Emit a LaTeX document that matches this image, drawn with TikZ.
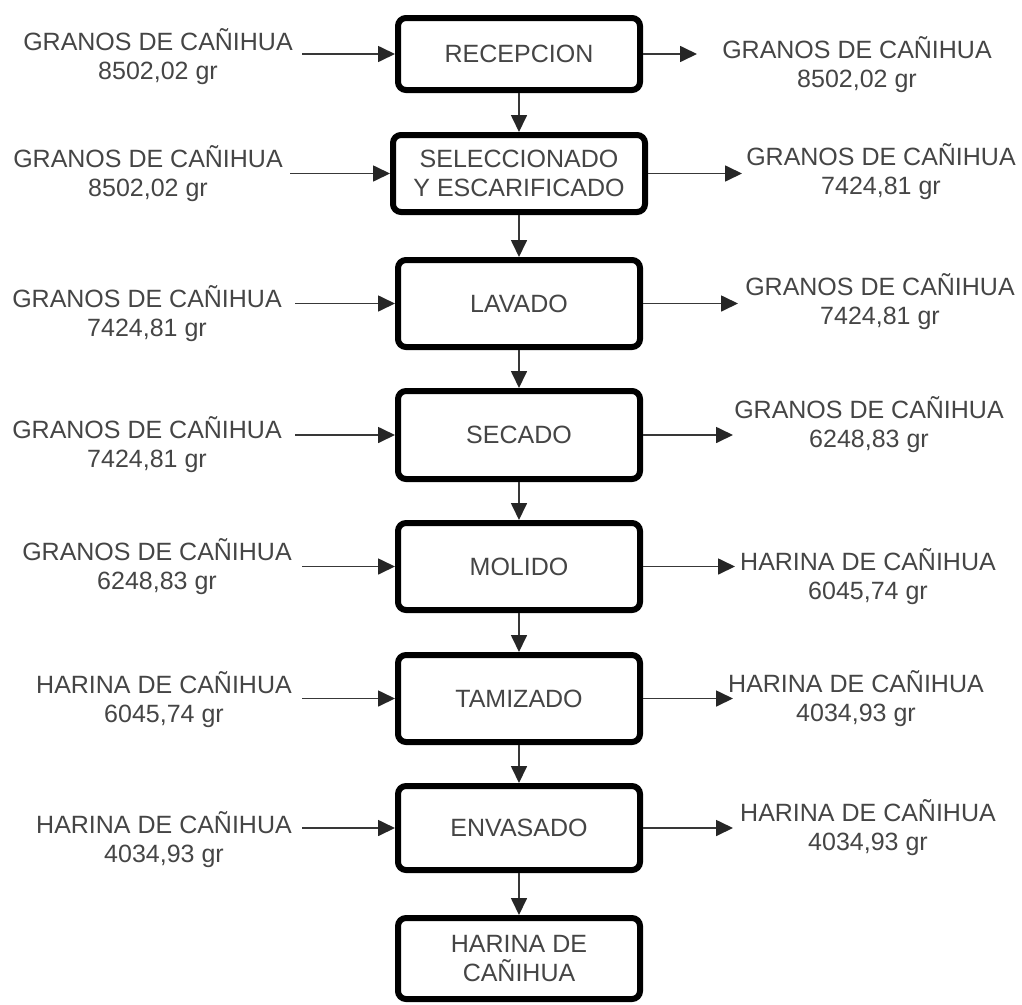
\documentclass[tikz,border=0pt]{standalone}
\usepackage{fontspec}
\setmainfont{Liberation Sans}
\usetikzlibrary{arrows.meta}
\definecolor{txt}{HTML}{454545}
\definecolor{wire}{HTML}{383838}
\tikzset{
  stagebox/.style={draw=black, line width=6pt, rounded corners=8pt, fill=white,
    minimum width=242pt, inner sep=0pt, align=center, text=txt,
    font=\fontsize{25}{29}\selectfont},
  flowlabel/.style={inner sep=0pt, align=center, text=txt,
    font=\fontsize{25}{29}\selectfont},
  flow/.style={draw=wire, line width=1.7pt,
    -{Triangle[length=17pt,width=16pt,color=black!85,fill=black!85]}},
}
\begin{document}
\begin{tikzpicture}[x=1pt,y=-1pt]
\useasboundingbox (0,0) rectangle (1022,1004);

% process stages
\node[stagebox, minimum height=72pt]                    (b1) at (519,54)    {RECEPCION};
\node[stagebox, minimum height=77pt, minimum width=252pt](b2) at (519,173.5) {SELECCIONADO\\Y ESCARIFICADO};
\node[stagebox, minimum height=87pt]                    (b3) at (519,303.5) {LAVADO};
\node[stagebox, minimum height=88pt]                    (b4) at (519,435)   {SECADO};
\node[stagebox, minimum height=87pt]                    (b5) at (519,566.5) {MOLIDO};
\node[stagebox, minimum height=87pt]                    (b6) at (519,698.5) {TAMIZADO};
\node[stagebox, minimum height=84pt]                    (b7) at (519,828)   {ENVASADO};
\node[stagebox, minimum height=81pt]                    (b8) at (519,958.5) {HARINA DE\\CAÑIHUA};

% main flow
\foreach \a/\b in {b1/b2,b2/b3,b3/b4,b4/b5,b5/b6,b6/b7,b7/b8}
  \draw[flow] (\a) -- (\b);

% inputs (left)
\node[flowlabel] (l1) at (158,57)  {GRANOS DE CAÑIHUA\\8502,02 gr};
\node[flowlabel] (l2) at (148,174) {GRANOS DE CAÑIHUA\\8502,02 gr};
\node[flowlabel] (l3) at (147,314) {GRANOS DE CAÑIHUA\\7424,81 gr};
\node[flowlabel] (l4) at (147,445) {GRANOS DE CAÑIHUA\\7424,81 gr};
\node[flowlabel] (l5) at (157,567) {GRANOS DE CAÑIHUA\\6248,83 gr};
\node[flowlabel] (l6) at (164,700) {HARINA DE CAÑIHUA\\6045,74 gr};
\node[flowlabel] (l7) at (164,840) {HARINA DE CAÑIHUA\\4034,93 gr};

\coordinate (i1) at (302,54);
\coordinate (i2) at (290,173.5);
\coordinate (i3) at (295,303.5);
\coordinate (i4) at (295,435);
\coordinate (i5) at (302,566.5);
\coordinate (i6) at (302,698.5);
\coordinate (i7) at (302,828);

% outputs (right)
\node[flowlabel] (r1) at (857,65)  {GRANOS DE CAÑIHUA\\8502,02 gr};
\node[flowlabel] (r2) at (881,172) {GRANOS DE CAÑIHUA\\7424,81 gr};
\node[flowlabel] (r3) at (880,302) {GRANOS DE CAÑIHUA\\7424,81 gr};
\node[flowlabel] (r4) at (869,425) {GRANOS DE CAÑIHUA\\6248,83 gr};
\node[flowlabel] (r5) at (868,577) {HARINA DE CAÑIHUA\\6045,74 gr};
\node[flowlabel] (r6) at (856,699) {HARINA DE CAÑIHUA\\4034,93 gr};
\node[flowlabel] (r7) at (868,828) {HARINA DE CAÑIHUA\\4034,93 gr};

\coordinate (o1) at (697,54);
\coordinate (o2) at (742,173.5);
\coordinate (o3) at (738,303.5);
\coordinate (o4) at (733,435);
\coordinate (o5) at (735,566.5);
\coordinate (o6) at (733,698.5);
\coordinate (o7) at (733,828);

\foreach \k in {1,...,7} {
  \draw[flow] (i\k) -- (b\k);
  \draw[flow] (b\k) -- (o\k);
}
\end{tikzpicture}
\end{document}
